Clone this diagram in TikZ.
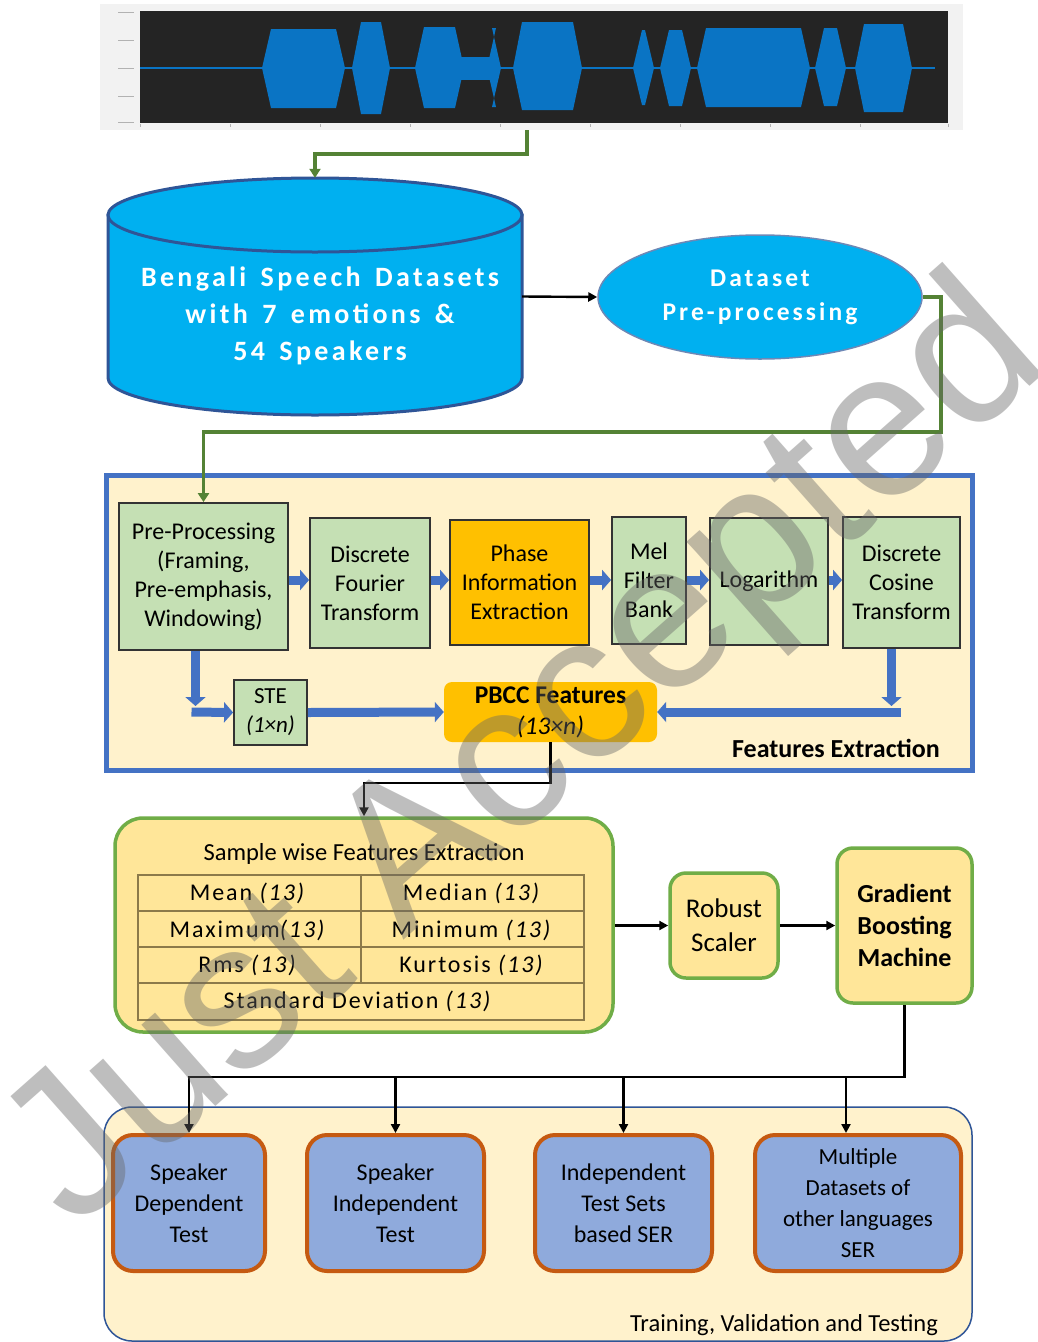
\documentclass[tikz,border=0pt]{standalone}
\usepackage{fontspec}
\setmainfont{Carlito}
\newfontfamily\wmfont{Liberation Sans}
\newfontfamily\spfont[LetterSpace=12]{Carlito}
\newfontfamily\tbfont[LetterSpace=8]{Carlito}
\usetikzlibrary{shapes.geometric,arrows.meta}
\definecolor{cyanb}{HTML}{00B0F0}
\definecolor{navy}{HTML}{2F5597}
\definecolor{cream}{HTML}{FFF2CC}
\definecolor{blueln}{HTML}{4472C4}
\definecolor{lgreen}{HTML}{C5E0B4}
\definecolor{orng}{HTML}{FFC000}
\definecolor{lyellow}{HTML}{FFE699}
\definecolor{gborder}{HTML}{70AD47}
\definecolor{gline}{HTML}{548235}
\definecolor{tfill}{HTML}{8FAADC}
\definecolor{tborder}{HTML}{C55A11}
\definecolor{wavec}{HTML}{0A74C4}
\definecolor{tabln}{HTML}{8C7A4A}
\tikzset{
  febox/.style={draw=black!80, line width=1.8pt, fill=lgreen, align=center, inner sep=2pt,
    font=\fontsize{24}{29}\selectfont},
  ybox/.style={draw=gborder, line width=3.5pt, fill=lyellow, rounded corners=16pt, align=center},
  testbox/.style={draw=tborder, line width=4pt, fill=tfill, rounded corners=20pt, align=center,
    minimum height=136pt, font=\fontsize{24}{31}\selectfont},
  barrow/.style={draw=black, line width=2.4pt, -{Triangle[length=9pt,width=9pt]}},
  garrow/.style={draw=gline, line width=3.5pt, -{Triangle[length=9pt,width=11pt]}},
  bluearr/.style={draw=blueln, line width=9pt, -{Triangle[length=9pt,width=20pt]}},
}
\begin{document}
\begin{tikzpicture}[x=1pt,y=-1pt]
\useasboundingbox (0,0) rectangle (1038,1342);
\fill[white] (0,0) rectangle (1038,1342);

% ---------- waveform ----------
\node[fill=black!5, inner sep=0pt, minimum width=863pt, minimum height=126pt] (wave) at (531.5,67) {};
\fill[black!86] (140,11) rectangle (948,123);
\foreach \yy in {12,40,68,96,122} \draw[black!30, line width=0.8pt] (118,\yy) -- (134,\yy);
\foreach \xx in {140,230,320,410,500,590,680,770,860,948} \draw[black!30, line width=0.8pt] (\xx,124) -- (\xx,127);
\draw[wavec, line width=1.2pt] (140,68) -- (935,68);
\foreach \a/\b/\t/\u in {262/345/29/108, 352/390/22/114, 415/464/27/108, 487/501/28/107,
  513/582/22/110, 633/654/30/105, 660/691/30/106, 697/810/28/107, 815/846/28/106, 855/912/24/112}
  \fill[wavec] (\a,68) -- (\a+9,\t) -- (\b-9,\t) -- (\b,68) -- (\b-9,\u) -- (\a+9,\u) -- cycle;
\fill[wavec] (458,57) rectangle (492,80);

% ---------- database cylinder ----------
\fill[cyanb, draw=navy, line width=3pt] (108,215) -- (108,378) arc[start angle=180, end angle=0, x radius=207, y radius=37] -- (522,215) -- cycle;
\fill[cyanb, draw=navy, line width=3pt] (315,215) ellipse[x radius=207, y radius=37];
\node[inner sep=0pt, minimum width=414pt, minimum height=237pt] (db) at (315,296.5) {};
\node[text=white, align=center, font=\spfont\bfseries\fontsize{28}{37}\selectfont] (dbtext) at (320,316) {Bengali\, Speech\, Datasets\\with\, 7\, emotions\, \&\\54\, Speakers};

% ---------- dataset pre-processing ----------
\node[ellipse, fill=cyanb, draw=navy!70, line width=1.5pt, minimum width=324pt, minimum height=124pt,
  inner sep=0pt, text=white, align=center, font=\spfont\bfseries\fontsize{25.5}{34}\selectfont] (pp) at (760,297) {Dataset\\Pre-processing};

\draw[garrow] ([xshift=-4.5pt]wave.south) -- ++(0,24) -| (db.north);
\draw[barrow] (db.east) -- (pp.west);

% ---------- features extraction ----------
\node[draw=blueln, line width=5pt, fill=cream, minimum width=866pt, minimum height=295pt] (fe) at (539,622.5) {};
\node[font=\bfseries\fontsize{26}{30}\selectfont] (felabel) at (836,748) {Features Extraction};

\node[febox, minimum width=169pt, minimum height=147pt] (pre) at (203.5,576.5) {Pre-Processing\\(Framing,\\Pre-emphasis,\\Windowing)};
\node[febox, minimum width=120pt, minimum height=130pt] (dft) at (370,583) {Discrete\\Fourier\\Transform};
\node[febox, fill=orng, minimum width=139pt, minimum height=125pt] (phase) at (519.5,582.5) {Phase\\Information\\Extraction};
\node[febox, minimum width=74pt, minimum height=127pt] (mel) at (649,580.5) {Mel\\Filter\\Bank};
\node[febox, minimum width=118pt, minimum height=127pt] (log) at (769,581.5) {Logarithm};
\node[febox, minimum width=117pt, minimum height=131pt] (dct) at (901.5,582.5) {Discrete\\Cosine\\Transform};
\node[febox, minimum width=73pt, minimum height=65pt, font=\fontsize{23}{29}\selectfont] (ste) at (270.5,712.5) {STE\\\itshape(1×n)};
\node[fill=orng, rounded corners=8pt, minimum width=213pt, minimum height=60pt, align=center, inner sep=1pt,
  font=\fontsize{25.5}{31}\selectfont] (pbcc) at (550.5,712) {\bfseries PBCC Features\\\itshape(13×n)};

\coordinate (ay) at (0,580);
\draw[bluearr] (pre.east |- ay) -- (dft.west |- ay);
\draw[bluearr] (dft.east |- ay) -- (phase.west |- ay);
\draw[bluearr] (phase.east |- ay) -- (mel.west |- ay);
\draw[bluearr] (mel.east |- ay) -- (log.west |- ay);
\draw[bluearr] (log.east |- ay) -- (dct.west |- ay);

\coordinate (c1) at (195.5,712);
\draw[bluearr] ([xshift=-8pt]pre.south) -- ([yshift=6pt]c1);
\draw[bluearr] ([xshift=-4pt]c1) -- (ste.west);
\draw[bluearr] (ste.east) -- (pbcc.west);
\coordinate (c2) at (891.5,712);
\draw[bluearr] ([xshift=-10pt]dct.south) -- ([yshift=6pt]c2);
\draw[bluearr] ([xshift=9pt]c2) -- (pbcc.east);

\draw[garrow] (pp.east) -- ++(18,0) -- ++(0,135) -| (pre.north);

% ---------- sample wise ----------
\node[ybox, rounded corners=28pt, minimum width=498pt, minimum height=214pt] (sample) at (364,925) {};
\node[font=\fontsize{24.5}{28}\selectfont] (stitle) at (364,854) {Sample wise Features Extraction};
\draw[tabln, line width=1.3pt] (138,875) rectangle (584,1020);
\draw[tabln, line width=1.3pt] (138,911) -- (584,911) (138,947) -- (584,947) (138,983) -- (584,983) (361,875) -- (361,983);
\tikzset{tabtxt/.style={font=\tbfont\fontsize{24}{26}\selectfont}}
\node[tabtxt] (m1) at (248,893) {Mean \textit{(13)}};
\node[tabtxt] (m2) at (472,893) {Median \textit{(13)}};
\node[tabtxt] (m3) at (248,930) {Maximum\textit{(13)}};
\node[tabtxt] (m4) at (472,930) {Minimum \textit{(13)}};
\node[tabtxt] (m5) at (248,965) {Rms \textit{(13)}};
\node[tabtxt] (m6) at (472,965) {Kurtosis \textit{(13)}};
\node[tabtxt] (m7) at (358,1001) {Standard Deviation \textit{(13)}};

\draw[barrow] (pbcc.south) -- ++(0,41) -| (sample.north);

\node[ybox, minimum width=108pt, minimum height=105pt, font=\fontsize{27}{34}\selectfont] (rs) at (724,925.5) {Robust\\Scaler};
\node[ybox, minimum width=135pt, minimum height=155pt, font=\bfseries\fontsize{26}{32}\selectfont] (gbm) at (904.5,925.5) {Gradient\\Boosting\\Machine};
\draw[barrow] (sample.east |- rs.west) -- (rs.west);
\draw[barrow] (rs.east) -- (gbm.west |- rs.east);

% ---------- training ----------
\node[draw=navy, line width=1.5pt, fill=cream, rounded corners=28pt, minimum width=868pt, minimum height=234pt] (train) at (538,1224) {};
\node[font=\fontsize{24.5}{28}\selectfont] (trlabel) at (784,1325) {Training, Validation and Testing};

\node[testbox, minimum width=152pt] (t1) at (189,1203) {Speaker\\Dependent\\Test};
\node[testbox, minimum width=177pt] (t2) at (395.5,1203) {Speaker\\Independent\\Test};
\node[testbox, minimum width=177pt] (t3) at (623.5,1203) {Independent\\Test Sets\\based SER};
\node[testbox, minimum width=206pt, font=\fontsize{23}{31}\selectfont] (t4) at (858,1203) {Multiple\\Datasets of\\other languages\\SER};

\coordinate (bus) at (189,1077);
\draw[barrow] (gbm.south) |- (bus) -- (t1.north);
\draw[barrow] (t2.north |- bus) -- (t2.north);
\draw[barrow] (t3.north |- bus) -- (t3.north);
\coordinate (t4in) at ([xshift=-12pt]t4.north);
\draw[barrow] (t4in |- bus) -- (t4in);

% ---------- watermark ----------
\node[rotate=41.5, text=black!60, text opacity=0.42, font=\wmfont\fontsize{208}{208}\selectfont] (wm) at (528,758) {Just Accepted};
\end{tikzpicture}
\end{document}
